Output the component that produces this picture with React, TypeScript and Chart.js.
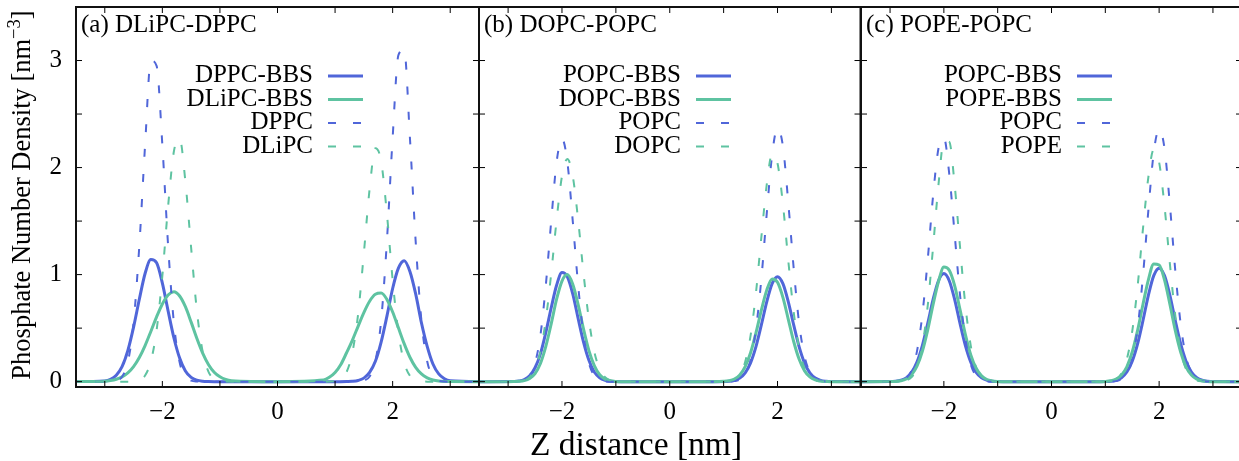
import React, { useEffect, useRef } from 'react';
import { Chart, registerables } from 'chart.js';

Chart.register(...registerables);

// Z positions (nm) at which the densities were read
const zGrid = [
  -3.6,
  -3.0, -2.9, -2.8, -2.7, -2.6, -2.5, -2.4, -2.3, -2.2, -2.1, -2.0, -1.9,
  -1.8, -1.7, -1.6, -1.5, -1.4, -1.3, -1.2, -1.1, -1.0, -0.9, -0.8,
  0,
  0.8, 0.9, 1.0, 1.1, 1.2, 1.3, 1.4, 1.5, 1.6, 1.7, 1.8, 1.9,
  2.0, 2.1, 2.2, 2.3, 2.4, 2.5, 2.6, 2.7, 2.8, 2.9, 3.0,
  3.6,
];

// Panel (a) DLiPC-DPPC
const aDppcBbs = [0,
  0.007, 0.022, 0.06, 0.14, 0.29, 0.51, 0.77, 1.01, 1.14, 1.11, 0.92, 0.66, 0.41, 0.22, 0.10, 0.04, 0.014, 0.004, 0.001, 0, 0, 0, 0,
  0,
  0, 0, 0, 0, 0.001, 0.003, 0.011, 0.033, 0.086, 0.19, 0.37, 0.61, 0.87, 1.06, 1.13, 1.03, 0.82, 0.55, 0.33, 0.165, 0.072, 0.027, 0.009,
  0];
const aDlipcBbs = [0,
  0.004, 0.010, 0.022, 0.044, 0.081, 0.14, 0.225, 0.337, 0.469, 0.605, 0.726, 0.81, 0.84, 0.80, 0.70, 0.556, 0.403, 0.267, 0.161, 0.088, 0.045, 0.02, 0.009,
  0,
  0.015, 0.04, 0.085, 0.16, 0.27, 0.386, 0.517, 0.645, 0.751, 0.816, 0.827, 0.768, 0.651, 0.503, 0.355, 0.228, 0.134, 0.072, 0.035, 0.016, 0.006, 0.002, 0.001,
  0];
const aDppc = [0,
  0, 0.001, 0.009, 0.046, 0.18, 0.55, 1.27, 2.21, 3.0, 2.95, 2.21, 1.27, 0.55, 0.18, 0.046, 0.009, 0.001, 0, 0, 0, 0, 0, 0,
  0,
  0, 0, 0, 0, 0, 0, 0.001, 0.009, 0.048, 0.19, 0.57, 1.31, 2.28, 3.05, 3.10, 2.28, 1.31, 0.57, 0.19, 0.048, 0.009, 0.001, 0,
  0];
const aDlipc = [0,
  0, 0, 0, 0, 0, 0.003, 0.014, 0.057, 0.19, 0.48, 0.99, 1.64, 2.15, 2.27, 1.87, 1.25, 0.66, 0.28, 0.094, 0.025, 0.005, 0.001, 0,
  0,
  0, 0.001, 0.005, 0.024, 0.09, 0.27, 0.63, 1.20, 1.80, 2.18, 2.06, 1.57, 0.95, 0.46, 0.18, 0.055, 0.014, 0.003, 0, 0, 0, 0, 0,
  0];

// Panel (b) DOPC-POPC
const bPopcBbs = [0,
  0.001, 0.002, 0.006, 0.019, 0.054, 0.13, 0.26, 0.46, 0.69, 0.90, 1.02, 0.98, 0.82, 0.59, 0.37, 0.20, 0.09, 0.037, 0.013, 0.004, 0.001, 0, 0,
  0,
  0, 0, 0.001, 0.004, 0.012, 0.034, 0.083, 0.176, 0.327, 0.53, 0.745, 0.915, 0.98, 0.915, 0.745, 0.53, 0.327, 0.176, 0.083, 0.034, 0.012, 0.004, 0.001,
  0];
const bDopcBbs = [0,
  0, 0.001, 0.003, 0.01, 0.03, 0.076, 0.17, 0.33, 0.54, 0.77, 0.94, 1.0, 0.91, 0.72, 0.49, 0.29, 0.15, 0.064, 0.024, 0.008, 0.002, 0, 0,
  0,
  0, 0.001, 0.003, 0.009, 0.025, 0.063, 0.14, 0.27, 0.455, 0.668, 0.855, 0.96, 0.928, 0.787, 0.582, 0.375, 0.211, 0.103, 0.044, 0.016, 0.005, 0.002, 0,
  0];
const bPopc = [0,
  0, 0, 0.003, 0.014, 0.055, 0.172, 0.434, 0.90, 1.50, 2.05, 2.27, 2.05, 1.50, 0.90, 0.434, 0.172, 0.055, 0.014, 0.003, 0, 0, 0, 0,
  0,
  0, 0, 0, 0.001, 0.005, 0.02, 0.07, 0.2, 0.49, 0.96, 1.57, 2.12, 2.37, 2.20, 1.67, 1.06, 0.55, 0.24, 0.09, 0.026, 0.007, 0.002, 0,
  0];
const bDopc = [0,
  0, 0, 0.003, 0.012, 0.041, 0.117, 0.28, 0.578, 1.01, 1.51, 1.92, 2.08, 1.92, 1.51, 1.01, 0.578, 0.28, 0.117, 0.041, 0.012, 0.003, 0, 0,
  0,
  0, 0, 0.001, 0.005, 0.021, 0.068, 0.186, 0.43, 0.83, 1.35, 1.84, 2.13, 2.04, 1.66, 1.13, 0.65, 0.31, 0.127, 0.043, 0.012, 0.003, 0, 0,
  0];

// Panel (c) POPE-POPC
const cPopcBbs = [0,
  0.001, 0.004, 0.013, 0.035, 0.086, 0.182, 0.337, 0.544, 0.768, 0.943, 1.01, 0.943, 0.768, 0.544, 0.337, 0.182, 0.086, 0.035, 0.013, 0.004, 0.001, 0, 0,
  0,
  0, 0, 0.001, 0.004, 0.013, 0.037, 0.09, 0.191, 0.354, 0.571, 0.806, 0.99, 1.06, 0.99, 0.806, 0.571, 0.354, 0.191, 0.09, 0.037, 0.013, 0.004, 0.001,
  0];
const cPopeBbs = [0,
  0.001, 0.002, 0.008, 0.025, 0.065, 0.145, 0.284, 0.484, 0.721, 0.935, 1.07, 1.04, 0.897, 0.673, 0.44, 0.25, 0.125, 0.054, 0.02, 0.007, 0.002, 0, 0,
  0,
  0, 0, 0.002, 0.008, 0.023, 0.061, 0.139, 0.277, 0.479, 0.723, 0.951, 1.10, 1.09, 0.951, 0.723, 0.479, 0.277, 0.139, 0.061, 0.023, 0.008, 0.002, 0,
  0];
const cPopc = [0,
  0, 0.002, 0.008, 0.033, 0.106, 0.283, 0.625, 1.14, 1.74, 2.18, 2.28, 1.94, 1.38, 0.81, 0.40, 0.16, 0.054, 0.015, 0.003, 0, 0, 0, 0,
  0,
  0, 0, 0, 0.001, 0.005, 0.022, 0.075, 0.21, 0.5, 0.99, 1.6, 2.14, 2.36, 2.18, 1.65, 1.04, 0.54, 0.23, 0.085, 0.025, 0.006, 0.001, 0,
  0];
const cPope = [0,
  0, 0, 0.002, 0.011, 0.042, 0.13, 0.335, 0.71, 1.26, 1.84, 2.25, 2.24, 1.84, 1.26, 0.71, 0.335, 0.13, 0.042, 0.011, 0.002, 0, 0, 0,
  0,
  0, 0, 0.001, 0.006, 0.024, 0.077, 0.21, 0.47, 0.89, 1.43, 1.91, 2.17, 2.05, 1.64, 1.10, 0.62, 0.29, 0.117, 0.039, 0.011, 0.002, 0, 0,
  0];

// Axis ticks
const xTickMarks = [-3, -2, -1, 0, 1, 2, 3];
const xTickLabels = [-2, 0, 2];
const yTickMarks = [0, 0.5, 1, 1.5, 2, 2.5, 3];
const yTickLabels = [0, 1, 2, 3];

// Text
const panelTitles = ['(a) DLiPC-DPPC', '(b) DOPC-POPC', '(c) POPE-POPC'];
const panelALabels = ['DPPC-BBS', 'DLiPC-BBS', 'DPPC', 'DLiPC'];
const panelBLabels = ['POPC-BBS', 'DOPC-BBS', 'POPC', 'DOPC'];
const panelCLabels = ['POPC-BBS', 'POPE-BBS', 'POPC', 'POPE'];
const xAxisTitle = 'Z distance [nm]';

// Styles
const BLUE = '#5066d9';
const GREEN = '#5ec3a1';
const FONT = '"Liberation Serif", "Times New Roman", serif';
const seriesStyles = [
  { color: BLUE, width: 3, dash: [] as number[] },
  { color: GREEN, width: 3, dash: [] as number[] },
  { color: BLUE, width: 2, dash: [8, 17] },
  { color: GREEN, width: 2, dash: [8, 17] },
];

const H = 461;
const PLOT_TOP = 7;
const PLOT_BOTTOM = 387;

const panels = [
  {
    title: panelTitles[0], labels: panelALabels, values: [aDppcBbs, aDlipcBbs, aDppc, aDlipc],
    canvasW: 1239, left: 76, right: 479, xMin: -3.5, xMax: 3.5, showY: true, legendTextRight: 313,
  },
  {
    title: panelTitles[1], labels: panelBLabels, values: [bPopcBbs, bDopcBbs, bPopc, bDopc],
    canvasW: 1239, left: 479, right: 860.5, xMin: -3.54, xMax: 3.54, showY: false, legendTextRight: 681,
  },
  {
    title: panelTitles[2], labels: panelCLabels, values: [cPopcBbs, cPopeBbs, cPopc, cPope],
    canvasW: 1250, left: 861, right: 1242, xMin: -3.54, xMax: 3.54, showY: false, legendTextRight: 1062,
  },
];

const fmt = (v: number) => (v < 0 ? '\u2212' + Math.abs(v) : String(v));

const framePlugin = {
  id: 'frame',
  afterDatasetsDraw(chart: any, _args: any, opts: any) {
    const { ctx, chartArea: a, scales } = chart;
    const xs = scales.x;
    const ys = scales.y;
    ctx.save();
    // ticks (inward, mirrored)
    ctx.strokeStyle = '#000';
    ctx.lineWidth = 1;
    ctx.beginPath();
    const L = 6;
    for (const v of xTickMarks) {
      const px = xs.getPixelForValue(v);
      ctx.moveTo(px, a.bottom); ctx.lineTo(px, a.bottom - L);
      ctx.moveTo(px, a.top); ctx.lineTo(px, a.top + L);
    }
    for (const v of yTickMarks) {
      const py = ys.getPixelForValue(v);
      ctx.moveTo(a.left, py); ctx.lineTo(a.left + L, py);
      ctx.moveTo(a.right, py); ctx.lineTo(a.right - L, py);
    }
    ctx.stroke();
    // frame
    ctx.strokeStyle = '#111';
    ctx.lineWidth = 2;
    ctx.strokeRect(a.left, a.top, a.right - a.left, a.bottom - a.top);
    // panel title
    ctx.fillStyle = '#000';
    ctx.font = '25px ' + FONT;
    ctx.textAlign = 'left';
    ctx.textBaseline = 'alphabetic';
    ctx.fillText(opts.title, a.left + 5, 32);
    // legend
    ctx.textAlign = 'right';
    chart.data.datasets.forEach((ds: any, i: number) => {
      const base = 82 + i * 23.5;
      ctx.fillStyle = '#000';
      ctx.fillText(ds.label, opts.legendTextRight, base);
      ctx.strokeStyle = ds.borderColor;
      ctx.lineWidth = ds.borderWidth;
      ctx.setLineDash(ds.borderDash || []);
      ctx.beginPath();
      ctx.moveTo(opts.legendTextRight + 15, base - 6);
      ctx.lineTo(opts.legendTextRight + 50, base - 6);
      ctx.stroke();
      ctx.setLineDash([]);
    });
    ctx.restore();
  },
};

function buildConfig(p: any): any {
  return {
    type: 'line',
    data: {
      datasets: p.values.map((vals: number[], i: number) => ({
        label: p.labels[i],
        data: zGrid.map((z, j) => ({ x: z, y: vals[j] })),
        borderColor: seriesStyles[i].color,
        borderWidth: seriesStyles[i].width,
        borderDash: seriesStyles[i].dash,
        pointRadius: 0,
        fill: false,
        cubicInterpolationMode: 'monotone',
        clip: 0,
        order: 4 - i,
      })),
    },
    options: {
      animation: false,
      responsive: false,
      maintainAspectRatio: false,
      events: [],
      layout: {
        padding: { left: 0, right: p.canvasW - p.right, top: PLOT_TOP, bottom: 0 },
      },
      plugins: {
        legend: { display: false },
        tooltip: { enabled: false },
        frame: { title: p.title, legendTextRight: p.legendTextRight },
      },
      scales: {
        x: {
          type: 'linear',
          min: p.xMin,
          max: p.xMax,
          grid: { display: false, drawTicks: false },
          border: { display: false },
          ticks: {
            padding: 10,
            autoSkip: false,
            maxRotation: 0,
            color: '#000',
            font: { family: FONT, size: 25 },
            callback: (v: number) => (xTickLabels.includes(v) ? fmt(v) : ''),
          },
          afterBuildTicks: (s: any) => { s.ticks = xTickMarks.map((v) => ({ value: v })); },
          afterFit: (s: any) => {
            s.height = H - PLOT_BOTTOM;
            s.paddingLeft = 0; s.paddingRight = 0; s.paddingTop = 0; s.paddingBottom = 0;
          },
        },
        y: {
          type: 'linear',
          min: -0.05,
          max: 3.5,
          display: true,
          grid: { display: false, drawTicks: false },
          border: { display: false },
          ticks: {
            display: p.showY,
            padding: 14,
            color: '#000',
            font: { family: FONT, size: 25 },
            callback: (v: number) => (p.showY && yTickLabels.includes(v) ? fmt(v) : ''),
          },
          afterBuildTicks: (s: any) => { s.ticks = yTickLabels.map((v) => ({ value: v })); },
          afterFit: (s: any) => {
            s.width = p.left;
            s.paddingLeft = 0; s.paddingRight = 0; s.paddingTop = 0; s.paddingBottom = 0;
          },
        },
      },
    },
    plugins: [framePlugin],
  };
}

function Panel({ p }: { p: any }) {
  const ref = useRef<HTMLCanvasElement>(null);
  useEffect(() => {
    const chart = new Chart(ref.current as HTMLCanvasElement, buildConfig(p));
    return () => chart.destroy();
  }, [p]);
  return (
    <canvas
      ref={ref}
      width={p.canvasW}
      height={H}
      style={{ position: 'absolute', left: 0, top: 0, width: p.canvasW, height: H }}
    />
  );
}

export default function App() {
  return (
    <div
      style={{
        position: 'fixed', left: 0, top: 0, width: 1239, height: H,
        overflow: 'hidden', background: '#fff', color: '#000',
      }}
    >
      {panels.map((p, i) => (
        <Panel key={i} p={p} />
      ))}
      <div
        style={{
          position: 'absolute', left: 21 - 220, top: 195 - 15, width: 440, height: 30,
          lineHeight: '30px', textAlign: 'center', transform: 'rotate(-90deg)',
          font: '26.5px ' + FONT, whiteSpace: 'nowrap',
        }}
      >
        Phosphate Number Density [nm
        <sup style={{ fontSize: '0.7em', lineHeight: 0, verticalAlign: '0.55em' }}>{'\u22123'}</sup>]
      </div>
      <div
        style={{
          position: 'absolute', left: 436, top: 427, width: 400, textAlign: 'center',
          font: '33.5px ' + FONT, lineHeight: '33.5px', whiteSpace: 'nowrap',
        }}
      >
        {xAxisTitle}
      </div>
    </div>
  );
}
